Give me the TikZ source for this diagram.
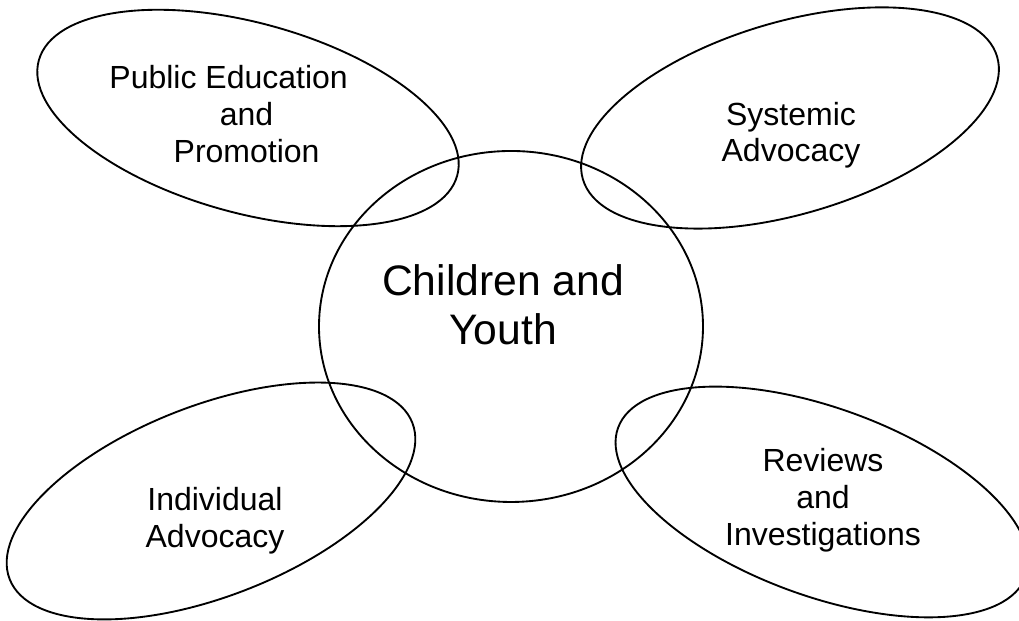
\documentclass[tikz,border=0pt]{standalone}
\usepackage{fontspec}
\setmainfont{Liberation Sans}
\usepackage{tikz}

\tikzset{
    blob/.style={draw=black, line width=0.7pt},
    lbl/.style={align=center, inner sep=0pt, font=\fontsize{12}{13.8}\selectfont},
    biglbl/.style={lbl, font=\fontsize{16}{18.4}\selectfont}
}

\begin{document}
\begin{tikzpicture}[x=0.375pt, y=0.375pt]
        \useasboundingbox (0,0) rectangle (1019,621);

        % centre and the four areas round it
        \draw[blob] (511,294.5) ellipse [x radius=192, y radius=175.5];
        \draw[blob, shift={(248,503)}, rotate=-15.4] (0,0) ellipse [x radius=217, y radius=95];
        \draw[blob, shift={(790,503)}, rotate=16.5] (0,0) ellipse [x radius=216, y radius=96];
        \draw[blob, shift={(211,120)}, rotate=21.2] (0,0) ellipse [x radius=216, y radius=95.5];
        \draw[blob, shift={(822,119)}, rotate=-20] (0,0) ellipse [x radius=217, y radius=94];

        \node[biglbl] (kids) at (503,316) {Children and\\Youth};
        % first line sits a little to the left
        \node[lbl] (pub) at (246.6,507.2) {Public Education\hspace*{13.5pt}\\and\\Promotion};
        \node[lbl] (sys) at (791,485.8) {Systemic\\Advocacy};
        \node[lbl] (ind) at (215,100.6) {Individual\\Advocacy};
        \node[lbl] (rev) at (823,120.6) {Reviews\\and\\Investigations};
    \end{tikzpicture}
\end{document}
